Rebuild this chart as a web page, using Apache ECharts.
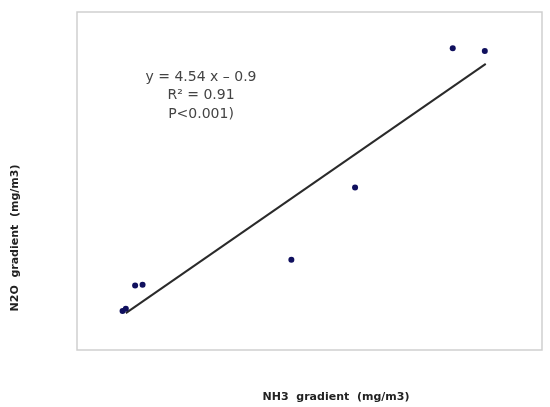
<!DOCTYPE html>
<html>
<head>
<meta charset="utf-8">
<script src="https://cdn.jsdelivr.net/npm/echarts@6/dist/echarts.min.js"></script>
<style>html,body{margin:0;padding:0;background:#fff;}#c{width:550px;height:407px;}</style>
</head>
<body>
<div id="c"></div>
<script>
// NH3 gradient (x) and N2O gradient (y)
var nh3 = [0.098, 0.105, 0.125, 0.141, 0.461, 0.598, 0.808, 0.877];
var n2o = [-0.39, -0.36, -0.03, -0.02, 0.33, 1.35, 3.31, 3.27];
// regression line end points (y = 4.54x - 0.9)
var fitX = [0.105, 0.879];
var fitY = [-0.42, 3.09];
var eqLines = ['y = 4.54 x \u2013 0.9', 'R\u00b2 = 0.91', 'P<0.001)'];
var xTitle = 'NH3  gradient  (mg/m3)';
var yTitle = 'N2O  gradient  (mg/m3)';

var chart = echarts.init(document.getElementById('c'));
var pts = nh3.map(function (x, i) { return [x, n2o[i]]; });
var fit = fitX.map(function (x, i) { return [x, fitY[i]]; });
chart.setOption({
  animation: false,
  grid: { left: 77, top: 12, right: 8, bottom: 57, show: true, borderColor: '#cfcfcf', borderWidth: 1.5, backgroundColor: '#fff' },
  xAxis: { type: 'value', min: 0, max: 1, show: false, splitLine: { show: false } },
  yAxis: { type: 'value', min: -0.94, max: 3.82, show: false, splitLine: { show: false } },
  series: [
    { type: 'line', data: fit, symbol: 'none', lineStyle: { color: '#2a2a2a', width: 2 }, z: 2 },
    { type: 'scatter', data: pts, symbolSize: 6, itemStyle: { color: '#10105e', opacity: 1 }, z: 3 }
  ],
  graphic: [
    { type: 'text', x: 201, y: 68, style: { text: eqLines.join('\n'), fill: '#444', font: '14px "DejaVu Sans", sans-serif', align: 'center', verticalAlign: 'top', lineHeight: 18.5 } },
    { type: 'text', x: 336, y: 397, style: { text: xTitle, fill: '#222', font: 'bold 11px "DejaVu Sans", sans-serif', align: 'center', verticalAlign: 'middle' } },
    { type: 'text', x: 15, y: 238, rotation: Math.PI / 2, style: { text: yTitle, fill: '#222', font: 'bold 11px "DejaVu Sans", sans-serif', align: 'center', verticalAlign: 'middle' } }
  ]
});
</script>
</body>
</html>
